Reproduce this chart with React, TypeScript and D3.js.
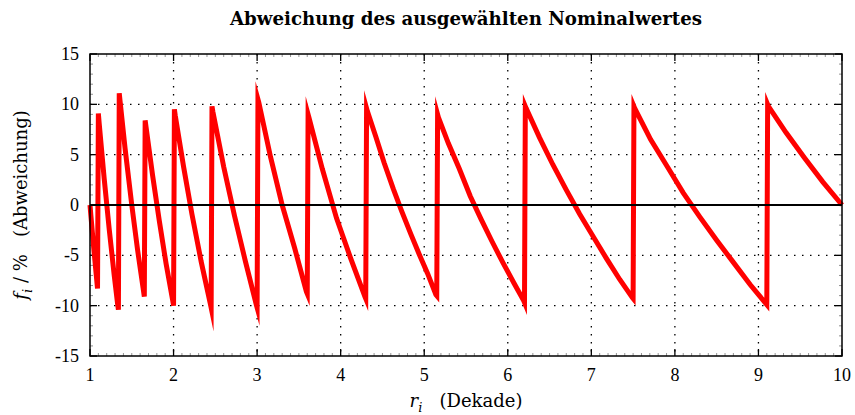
import React, { useEffect, useRef } from 'react';
import * as d3 from 'd3';

// deviation of the chosen E12 nominal value (r in decade, f in %)
// one row per nominal value 1.0, 1.2, 1.5 ... 8.2, 10
const rValues = [
  1.00, 1.01, 1.045, 1.08, 1.09,
  1.10, 1.11, 1.17, 1.23, 1.29, 1.33, 1.34,
  1.35, 1.36, 1.42, 1.50, 1.57, 1.64, 1.65,
  1.66, 1.67, 1.75, 1.83, 1.91, 1.99, 2.00,
  2.01, 2.02, 2.12, 2.22, 2.33, 2.44, 2.45,
  2.46, 2.47, 2.60, 2.73, 2.86, 2.99, 3.00,
  3.01, 3.02, 3.16, 3.30, 3.45, 3.59, 3.60,
  3.61, 3.62, 3.78, 3.95, 4.12, 4.29, 4.30,
  4.31, 4.32, 4.42, 4.52, 4.63, 4.73, 4.84, 4.94, 5.04, 5.14, 5.15,
  5.16, 5.17, 5.29, 5.42, 5.55, 5.68, 5.81, 5.94, 6.07, 6.19, 6.20,
  6.21, 6.22, 6.38, 6.54, 6.70, 6.86, 7.02, 7.18, 7.34, 7.49, 7.50,
  7.51, 7.52, 7.71, 7.91, 8.10, 8.30, 8.50, 8.70, 8.90, 9.09, 9.10,
  9.11, 9.12, 9.33, 9.55, 9.77, 10.00,
];
const fValues = [
  0, -1.0, -4.3, -7.4, -8.3,
  9.1, 8.1, 2.6, -2.4, -7.0, -9.8, -10.4,
  11.1, 10.3, 5.6, 0, -4.5, -8.5, -9.1,
  8.4, 7.8, 2.9, -1.6, -5.8, -9.5, -10.0,
  9.5, 8.9, 3.8, -0.9, -5.6, -9.8, -10.2,
  9.8, 9.3, 3.8, -1.1, -5.6, -9.9, -10.2,
  10.5, 10.2, 4.8, 0, -4.3, -8.6, -8.8,
  9.0, 8.7, 3.6, -1.3, -5.3, -9.1, -9.3,
  9.6, 9.3, 6.8, 4.2, 1.6, -0.6, -2.9, -4.9, -6.8, -8.9, -9.0,
  9.0, 8.7, 6.1, 3.6, 0.9, -1.4, -3.6, -5.7, -7.7, -9.5, -9.7,
  9.8, 9.6, 6.7, 4.0, 1.5, -0.9, -3.1, -5.3, -7.4, -9.2, -9.3,
  9.8, 9.6, 6.5, 3.8, 1.2, -1.2, -3.5, -5.7, -7.9, -9.8, -9.9,
  10.0, 9.8, 7.2, 4.7, 2.3, 0,
];

const xTicks = [1, 2, 3, 4, 5, 6, 7, 8, 9, 10];
const yTicks = [-15, -10, -5, 0, 5, 10, 15];

export default function App() {
  const svgRef = useRef<SVGSVGElement>(null);

  useEffect(() => {
    if (!svgRef.current) return;
    const width = 855;
    const height = 415;
    const margin = { top: 54, right: 13, bottom: 59, left: 90 };
    const innerW = width - margin.left - margin.right;
    const innerH = height - margin.top - margin.bottom;

    const svg = d3.select(svgRef.current);
    svg.selectAll('*').remove();

    const x = d3.scaleLinear().domain([1, 10]).range([0, innerW]);
    const y = d3.scaleLinear().domain([-15, 15]).range([innerH, 0]);

    const g = svg.append('g').attr('transform', `translate(${margin.left},${margin.top})`);

    // dotted grid
    g.append('g')
      .selectAll('line')
      .data(xTicks.slice(1, -1))
      .join('line')
      .attr('x1', d => x(d)).attr('x2', d => x(d))
      .attr('y1', 0).attr('y2', innerH)
      .attr('stroke', '#000')
      .attr('stroke-width', 1.3)
      .attr('stroke-dasharray', '1.5,6.5');
    g.append('g')
      .selectAll('line')
      .data(yTicks.slice(1, -1))
      .join('line')
      .attr('x1', 0).attr('x2', innerW)
      .attr('y1', d => y(d)).attr('y2', d => y(d))
      .attr('stroke', '#000')
      .attr('stroke-width', 1.3)
      .attr('stroke-dasharray', '1.5,6.5');

    // minor + major ticks on all four sides
    const minorX = d3.range(1, 10.001, 0.1).filter(v => Math.abs(v - Math.round(v)) > 1e-6);
    const minorY = d3.range(-15, 15.001, 1).filter(v => v % 5 !== 0);
    const ticks = g.append('g').attr('stroke', '#000');
    const addX = (vals: number[], len: number, w: number, col: string) => {
      for (const v of vals) {
        ticks.append('line').attr('x1', x(v)).attr('x2', x(v)).attr('y1', innerH).attr('y2', innerH - len).attr('stroke-width', w).attr('stroke', col);
        ticks.append('line').attr('x1', x(v)).attr('x2', x(v)).attr('y1', 0).attr('y2', len).attr('stroke-width', w).attr('stroke', col);
      }
    };
    const addY = (vals: number[], len: number, w: number, col: string) => {
      for (const v of vals) {
        ticks.append('line').attr('x1', 0).attr('x2', len).attr('y1', y(v)).attr('y2', y(v)).attr('stroke-width', w).attr('stroke', col);
        ticks.append('line').attr('x1', innerW).attr('x2', innerW - len).attr('y1', y(v)).attr('y2', y(v)).attr('stroke-width', w).attr('stroke', col);
      }
    };
    addX(minorX, 3, 0.8, '#777');
    addY(minorY, 3, 0.8, '#777');
    addX(xTicks, 7, 1.3, '#000');
    addY(yTicks, 7, 1.3, '#000');

    // deviation curve
    const pts = rValues.map((r, i) => [r, fValues[i]] as [number, number]);
    const line = d3.line<[number, number]>().x(d => x(d[0])).y(d => y(d[1]));
    g.append('path')
      .datum(pts)
      .attr('d', line)
      .attr('fill', 'none')
      .attr('stroke', '#ff0000')
      .attr('stroke-width', 5)
      .attr('stroke-linejoin', 'miter')
      .attr('stroke-miterlimit', 10);

    // zero line
    g.append('line')
      .attr('x1', 0).attr('x2', innerW)
      .attr('y1', y(0)).attr('y2', y(0))
      .attr('stroke', '#000')
      .attr('stroke-width', 2.2);

    // frame
    g.append('rect')
      .attr('width', innerW).attr('height', innerH)
      .attr('fill', 'none')
      .attr('stroke', '#000')
      .attr('stroke-width', 1.5);

    // tick labels
    const font = '"Liberation Serif", serif';
    g.append('g')
      .selectAll('text')
      .data(xTicks)
      .join('text')
      .attr('x', d => x(d))
      .attr('y', innerH + 25)
      .attr('text-anchor', 'middle')
      .attr('font-family', font)
      .attr('font-size', 18)
      .text(d => d);
    g.append('g')
      .selectAll('text')
      .data(yTicks)
      .join('text')
      .attr('x', -11)
      .attr('y', d => y(d) + 6)
      .attr('text-anchor', 'end')
      .attr('font-family', font)
      .attr('font-size', 18)
      .text(d => d);

    // title
    svg.append('text')
      .attr('x', margin.left + innerW / 2)
      .attr('y', 25)
      .attr('text-anchor', 'middle')
      .attr('font-family', '"DejaVu Serif", serif')
      .attr('font-weight', 'bold')
      .attr('font-size', 18.2)
      .text('Abweichung des ausgewählten Nominalwertes');

    // x axis label
    const labFont = '"DejaVu Serif", serif';
    const xl = svg.append('text')
      .attr('x', margin.left + innerW / 2)
      .attr('y', 407)
      .attr('text-anchor', 'middle')
      .attr('font-family', labFont)
      .attr('font-size', 18);
    xl.append('tspan').attr('font-style', 'italic').text('r');
    xl.append('tspan').attr('font-style', 'italic').attr('font-size', 13).attr('dy', 5).text('i');
    xl.append('tspan').attr('dy', -5).text('\u00a0\u00a0\u00a0(Dekade)');

    // y axis label
    const yl = svg.append('text')
      .attr('transform', `translate(27,${margin.top + innerH / 2}) rotate(-90)`)
      .attr('text-anchor', 'middle')
      .attr('font-family', labFont)
      .attr('font-size', 18);
    yl.append('tspan').attr('font-style', 'italic').text('f');
    yl.append('tspan').attr('font-style', 'italic').attr('font-size', 13).attr('dy', 5).text('i');
    yl.append('tspan').attr('dy', -5).text('\u00a0/\u00a0%\u00a0\u00a0\u00a0(Abweichung)');
  }, []);

  return (
    <svg
      ref={svgRef}
      width={855}
      height={415}
      style={{ position: 'absolute', left: 0, top: 0, background: '#fff' }}
    />
  );
}
